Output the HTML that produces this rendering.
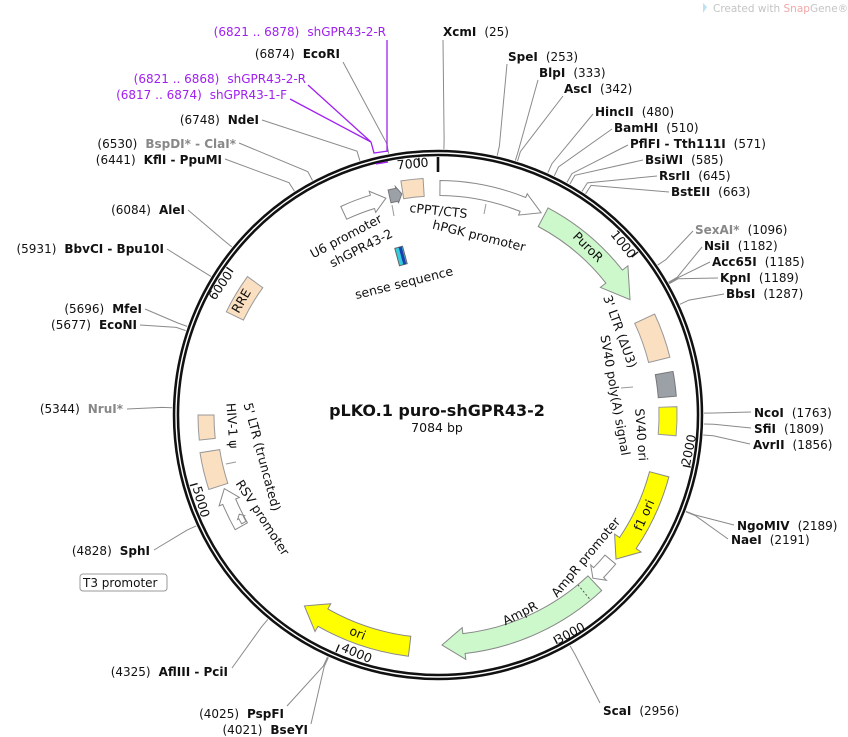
<!DOCTYPE html>
<html><head><meta charset="utf-8"><style>
html,body{margin:0;padding:0;background:#fff;}
svg{display:block;font-family:"DejaVu Sans","Liberation Sans",sans-serif;}
</style></head><body>
<svg id="s" width="848" height="737" viewBox="0 0 848 737" xmlns="http://www.w3.org/2000/svg">
<rect width="848" height="737" fill="#fff"/>
<g id="lines" stroke="#8a8a8a" stroke-width="1" fill="none"></g>
<g id="feat"></g>
<circle cx="438" cy="415" r="262" fill="none" stroke="#111" stroke-width="6.5"/>
<circle cx="438" cy="415" r="262" fill="none" stroke="#fff" stroke-width="1.4"/>
<g id="ticks" stroke="#111"></g>

<g stroke="#a020f0" stroke-width="1.3" fill="none">
<polyline points="387,40 387,152"/>
<polyline points="308,85 371,142"/>
<polyline points="290,99 371,142"/>
<polyline points="371,142 374,153 388,151"/>
<polyline points="376,164 388,162"/>
</g>

<g font-size="12.5" fill="#111">
<text transform="translate(413,168) rotate(-5)" text-anchor="middle">7000</text>
<text transform="translate(620,247) rotate(51)" text-anchor="middle">1000</text>
<text transform="translate(693,451) rotate(-78)" text-anchor="middle">2000</text>
<text transform="translate(572,637) rotate(-28)" text-anchor="middle">3000</text>
<text transform="translate(355,657) rotate(23)" text-anchor="middle">4000</text>
<text transform="translate(197,503) rotate(74)" text-anchor="middle">5000</text>
<text transform="translate(224,288) rotate(-55)" text-anchor="middle">6000</text>

<text transform="translate(348,240) rotate(-28)" text-anchor="middle">U6 promoter</text>
<text transform="translate(363,252) rotate(-27)" text-anchor="middle">shGPR43-2</text>
<text transform="translate(438,215) rotate(6)" text-anchor="middle">cPPT/CTS</text>
<text transform="translate(478,240) rotate(14)" text-anchor="middle">hPGK promoter</text>
<text transform="translate(585,250) rotate(45)" text-anchor="middle">PuroR</text>
<text transform="translate(405,287) rotate(-14)" text-anchor="middle">sense sequence</text>
<text transform="translate(245,303) rotate(-60)" text-anchor="middle">RRE</text>
<text transform="translate(616,333) rotate(70)" text-anchor="middle">3' LTR (ΔU3)</text>
<text transform="translate(611,396) rotate(80)" text-anchor="middle">SV40 poly(A) signal</text>
<text transform="translate(637,435) rotate(86)" text-anchor="middle">SV40 ori</text>
<text transform="translate(648,517) rotate(-66)" text-anchor="middle">f1 ori</text>
<text transform="translate(589,560) rotate(-50)" text-anchor="middle">AmpR promoter</text>
<text transform="translate(522,617) rotate(-27)" text-anchor="middle">AmpR</text>
<text transform="translate(356,637) rotate(22)" text-anchor="middle">ori</text>
<text transform="translate(258,458) rotate(75)" text-anchor="middle">5' LTR (truncated)</text>
<text transform="translate(228,426) rotate(86)" text-anchor="middle">HIV-1 ψ</text>
<text transform="translate(259,520) rotate(57)" text-anchor="middle">RSV promoter</text>

<text x="437" y="416" text-anchor="middle" font-size="16" font-weight="bold">pLKO.1 puro-shGPR43-2</text>
<text x="437" y="432" text-anchor="middle" font-size="12.5">7084 bp</text>
</g>

<g font-size="12" fill="#111">
<rect x="80" y="574" width="87" height="17" rx="3" fill="#fff" stroke="#999"/>
<text x="83" y="587">T3 promoter</text>

<g fill="#a020f0">
<text x="386" y="36" text-anchor="end">(6821 .. 6878)<tspan dx="8">shGPR43-2-R</tspan></text>
<text x="306" y="83" text-anchor="end">(6821 .. 6868)<tspan dx="8">shGPR43-2-R</tspan></text>
<text x="287" y="99" text-anchor="end">(6817 .. 6874)<tspan dx="8">shGPR43-1-F</tspan></text>
</g>

<text x="340" y="58" text-anchor="end">(6874)<tspan dx="8" font-weight="bold">EcoRI</tspan></text>
<text x="259" y="124" text-anchor="end">(6748)<tspan dx="8" font-weight="bold">NdeI</tspan></text>
<text x="236" y="148" text-anchor="end">(6530)<tspan dx="8" font-weight="bold" fill="#888">BspDI* - ClaI*</tspan></text>
<text x="222" y="164" text-anchor="end">(6441)<tspan dx="8" font-weight="bold">KflI - PpuMI</tspan></text>
<text x="185" y="214" text-anchor="end">(6084)<tspan dx="8" font-weight="bold">AleI</tspan></text>
<text x="164" y="253" text-anchor="end">(5931)<tspan dx="8" font-weight="bold">BbvCI - Bpu10I</tspan></text>
<text x="142" y="313" text-anchor="end">(5696)<tspan dx="8" font-weight="bold">MfeI</tspan></text>
<text x="137" y="329" text-anchor="end">(5677)<tspan dx="8" font-weight="bold">EcoNI</tspan></text>
<text x="123" y="413" text-anchor="end">(5344)<tspan dx="8" font-weight="bold" fill="#888">NruI*</tspan></text>
<text x="150" y="555" text-anchor="end">(4828)<tspan dx="8" font-weight="bold">SphI</tspan></text>
<text x="228" y="676" text-anchor="end">(4325)<tspan dx="8" font-weight="bold">AflIII - PciI</tspan></text>
<text x="284" y="718" text-anchor="end">(4025)<tspan dx="8" font-weight="bold">PspFI</tspan></text>
<text x="308" y="734" text-anchor="end">(4021)<tspan dx="8" font-weight="bold">BseYI</tspan></text>

<text x="443" y="36"><tspan font-weight="bold">XcmI</tspan><tspan dx="8">(25)</tspan></text>
<text x="508" y="61"><tspan font-weight="bold">SpeI</tspan><tspan dx="8">(253)</tspan></text>
<text x="539" y="77"><tspan font-weight="bold">BlpI</tspan><tspan dx="8">(333)</tspan></text>
<text x="564" y="93"><tspan font-weight="bold">AscI</tspan><tspan dx="8">(342)</tspan></text>
<text x="595" y="116"><tspan font-weight="bold">HincII</tspan><tspan dx="8">(480)</tspan></text>
<text x="614" y="132"><tspan font-weight="bold">BamHI</tspan><tspan dx="8">(510)</tspan></text>
<text x="630" y="148"><tspan font-weight="bold">PflFI - Tth111I</tspan><tspan dx="8">(571)</tspan></text>
<text x="645" y="164"><tspan font-weight="bold">BsiWI</tspan><tspan dx="8">(585)</tspan></text>
<text x="659" y="180"><tspan font-weight="bold">RsrII</tspan><tspan dx="8">(645)</tspan></text>
<text x="671" y="196"><tspan font-weight="bold">BstEII</tspan><tspan dx="8">(663)</tspan></text>
<text x="695" y="234"><tspan font-weight="bold" fill="#888">SexAI*</tspan><tspan dx="8">(1096)</tspan></text>
<text x="704" y="250"><tspan font-weight="bold">NsiI</tspan><tspan dx="8">(1182)</tspan></text>
<text x="712" y="266"><tspan font-weight="bold">Acc65I</tspan><tspan dx="8">(1185)</tspan></text>
<text x="720" y="282"><tspan font-weight="bold">KpnI</tspan><tspan dx="8">(1189)</tspan></text>
<text x="726" y="298"><tspan font-weight="bold">BbsI</tspan><tspan dx="8">(1287)</tspan></text>
<text x="754" y="417"><tspan font-weight="bold">NcoI</tspan><tspan dx="8">(1763)</tspan></text>
<text x="754" y="433"><tspan font-weight="bold">SfiI</tspan><tspan dx="8">(1809)</tspan></text>
<text x="753" y="449"><tspan font-weight="bold">AvrII</tspan><tspan dx="8">(1856)</tspan></text>
<text x="737" y="530"><tspan font-weight="bold">NgoMIV</tspan><tspan dx="8">(2189)</tspan></text>
<text x="731" y="544"><tspan font-weight="bold">NaeI</tspan><tspan dx="8">(2191)</tspan></text>
<text x="603" y="715"><tspan font-weight="bold">ScaI</tspan><tspan dx="8">(2956)</tspan></text>
</g>

<path d="M703,3 l4,4 l-4,6 z" fill="#bfe0f0"/>
<text x="713" y="12" font-size="10.5" fill="#c4c4c4">Created with <tspan fill="#f0a8a8">Snap</tspan>Gene®</text>

<script>
(function(){
var cx=438,cy=415,NS="http://www.w3.org/2000/svg",L=7084;
function P(a,r){var t=a*Math.PI/180;return [cx+r*Math.sin(t),cy-r*Math.cos(t)];}
function f(p){return p[0].toFixed(1)+","+p[1].toFixed(1);}
function el(g,tag,attrs){var e=document.createElementNS(NS,tag);for(var k in attrs)e.setAttribute(k,attrs[k]);document.getElementById(g).appendChild(e);return e;}
function arc(a1,a2,r,sweep){var lg=Math.abs(a2-a1)>180?1:0;return "A"+r+","+r+" 0 "+lg+","+sweep+" "+f(P(a2,r));}
function box(a1,a2,r,w,fill,stroke){var ro=r+w/2,ri=r-w/2;
 var d="M"+f(P(a1,ro))+arc(a1,a2,ro,1)+"L"+f(P(a2,ri))+arc(a2,a1,ri,0)+"Z";
 el("feat","path",{d:d,fill:fill,stroke:stroke||"#999","stroke-width":1});}
function arrow(a1,a2,r,w,hl,e,fill,stroke){var ro=r+w/2,ri=r-w/2;var ha=hl/r*180/Math.PI;var ab=a2-ha;
 var d="M"+f(P(a1,ro))+arc(a1,ab,ro,1)+"L"+f(P(ab,ro+e))+"L"+f(P(a2,r))+"L"+f(P(ab,ri-e))+"L"+f(P(ab,ri))+arc(ab,a1,ri,0)+"Z";
 el("feat","path",{d:d,fill:fill,stroke:stroke||"#888","stroke-width":1});}
var peach="#fbdfc1",green="#cdf8cc",yel="#ffff00",grey="#9ca1a8";
arrow(-25,-13.5,223,14,14,4,"#fff","#888");
arrow(-12.5,-9.3,224,13,5,2,grey,"#777");
box(-9,-3.6,228,18,peach);
arrow(0.5,27,227,15,20,4,"#fff","#888");
arrow(28,59,224,21,28,7,green);
box(65,76,228,22,peach);
box(79.5,85.5,230,18,grey,"#777");
box(88,95,230,18,yel);
arrow(105,129,229,20,20,6,yel);
arrow(130,136.5,225,14,8,4,"#fff","#888");
arrow(137,179,230,20,22,6,green);
arrow(187,215,233,20,22,6,yel);
arrow(240.5,251,226,14,14,4,"#fff","#888");
arrow(241,243.5,222,5,4,1.5,"#fff","#888");
box(252,261,231,20,peach);
box(264,270,232,16,peach);
box(296,306,226,19,peach);
var d1=P(140.5,220),d2=P(140.5,240);
el("feat","line",{x1:d1[0],y1:d1[1],x2:d2[0],y2:d2[1],stroke:"#555","stroke-dasharray":"2,2"});
var g=el("feat","g",{transform:"translate(401,256) rotate(-15)"});
var r1=document.createElementNS(NS,"rect");r1.setAttribute("x",-4);r1.setAttribute("y",-9);r1.setAttribute("width",8);r1.setAttribute("height",18);r1.setAttribute("fill","#33ccdd");r1.setAttribute("stroke","#666");g.appendChild(r1);
var r2=document.createElementNS(NS,"rect");r2.setAttribute("x",0);r2.setAttribute("y",-9);r2.setAttribute("width",3);r2.setAttribute("height",18);r2.setAttribute("fill","#1a3fb0");g.appendChild(r2);
el("feat","line",{x1:392,y1:205,x2:394,y2:216,stroke:"#999"});
el("feat","line",{x1:486,y1:204,x2:484,y2:214,stroke:"#999"});
el("feat","line",{x1:621,y1:388,x2:633,y2:387,stroke:"#999"});
el("feat","line",{x1:226,y1:464,x2:236,y2:462,stroke:"#999"});
for(var k=1;k<=7;k++){var a=k*1000/L*360;var p1=P(a,258),p2=P(a,250);
 el("ticks","line",{x1:p1[0],y1:p1[1],x2:p2[0],y2:p2[1],"stroke-width":1.4});}
var t1=P(0,258),t2=P(0,243);el("ticks","line",{x1:t1[0],y1:t1[1],x2:t2[0],y2:t2[1],"stroke-width":2.6});
var E=[[343,62,6874],[262,120,6748],[239,143,6530],[225,159,6441],[188,210,6084],[167,249,5931],[145,309,5696],[140,325,5677],[127,409,5344],[154,550,4828],[232,668,4325],[287,706,4025],[311,724,4021],
[443,40,25],[507,64,253],[538,80,333],[563,96,342],[593,114,480],[612,129,510],[628,145,571],[643,160,585],[657,176,645],[669,192,663],[693,231,1096],[702,247,1182],[710,262,1185],[718,278,1189],[724,294,1287],[751,412,1763],[751,428,1809],[750,444,1856],[734,525,2189],[728,539,2191],[600,703,2956]];
E.forEach(function(e){var a=e[2]/L*360;var k=P(a,276),q=P(a,266);
 el("lines","polyline",{points:e[0]+","+e[1]+" "+f(k)+" "+f(q)});});
})();
</script>
</svg>
</body></html>
